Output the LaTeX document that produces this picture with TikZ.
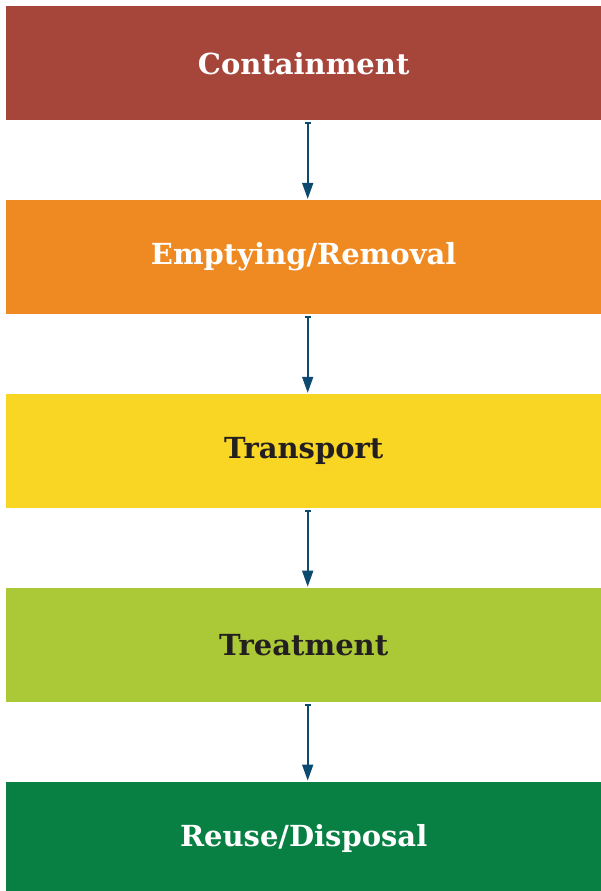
\documentclass[tikz,border=0pt]{standalone}
\usepackage{fontspec}
\setmainfont{DejaVu Serif}
\usetikzlibrary{positioning, arrows.meta}

\definecolor{containred}{HTML}{A6453A}
\definecolor{emptyorange}{HTML}{EF8A22}
\definecolor{transyellow}{HTML}{F9D524}
\definecolor{treatlime}{HTML}{ABC937}
\definecolor{reusegreen}{HTML}{087F43}
\definecolor{flowblue}{HTML}{0C4A70}
\definecolor{darktext}{HTML}{231F20}

\begin{document}
\begin{tikzpicture}[x=1pt, y=1pt, node distance=79.5pt,
    stage/.style={minimum width=595pt, minimum height=114pt, inner sep=0pt,
        font=\bfseries\fontsize{29}{33}\selectfont},
    flow/.style={draw=flowblue, line width=1.6pt, {Bar[width=6pt]}-{Triangle[width=11pt, length=16pt]},
        shorten <=2pt, shorten >=1pt}]
    \useasboundingbox (0,0) rectangle (601,-891);

    \node[stage, fill=containred, text=white, anchor=north west] (contain) at (6,-6) {Containment};
    \node[stage, fill=emptyorange, text=white, below=of contain] (empty) {Emptying/Removal};
    \node[stage, fill=transyellow, text=darktext, below=of empty] (transport) {Transport};
    \node[stage, fill=treatlime, text=darktext, below=of transport] (treat) {Treatment};
    \node[stage, fill=reusegreen, text=white, below=of treat] (reuse) {Reuse/Disposal};

    \foreach \a/\b in {contain/empty, empty/transport, transport/treat, treat/reuse} {
        \draw[flow] ([xshift=4pt]\a.south) -- ([xshift=4pt]\b.north);
    }
\end{tikzpicture}
\end{document}
